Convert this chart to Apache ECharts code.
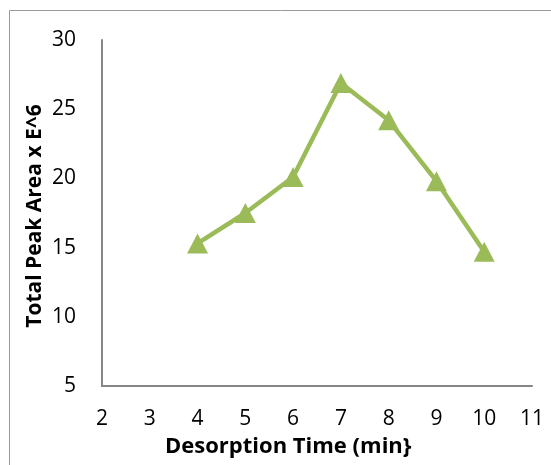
<!DOCTYPE html>
<html><head><meta charset="utf-8">
<script src="https://cdn.jsdelivr.net/npm/echarts@6/dist/echarts.min.js"></script>
<style>html,body{margin:0;padding:0;background:#fff}#c{width:551px;height:465px}</style>
</head><body><div id="c"></div>
<script>
const xValues = [4, 5, 6, 7, 8, 9, 10];
const peakArea = [15.3, 17.5, 20.1, 26.9, 24.2, 19.8, 14.7];
const xTitle = 'Desorption Time (min}';
const yTitle = 'Total Peak Area x E^6';

const chart = echarts.init(document.getElementById('c'));
const font = '"Open Sans", "Liberation Sans", sans-serif';
chart.setOption({
  animation: false,
  graphic: [{
    type: 'rect', shape: {x: 9.5, y: 10.5, width: 600, height: 500},
    style: {fill: 'none', stroke: '#9a9a9a', lineWidth: 1}, z: -1
  }, {
    type: 'text', left: 165, top: 436,
    style: {text: xTitle, font: 'bold 22px ' + font, fill: '#000'}
  }, {
    type: 'text', x: 35, y: 216, rotation: Math.PI / 2,
    style: {text: yTitle, font: 'bold 21px ' + font, fill: '#000', align: 'center', verticalAlign: 'middle'}
  }],
  grid: {left: 102, top: 40, width: 430, height: 346},
  xAxis: {
    type: 'value', min: 2, max: 11, interval: 1,
    axisLine: {lineStyle: {color: '#868686', width: 2}},
    axisTick: {show: false}, splitLine: {show: false},
    axisLabel: {fontFamily: font, fontSize: 21, color: '#000', margin: 23}
  },
  yAxis: {
    type: 'value', min: 5, max: 30, interval: 5,
    axisLine: {show: true, lineStyle: {color: '#868686', width: 2}},
    axisTick: {show: false}, splitLine: {show: false},
    axisLabel: {fontFamily: font, fontSize: 21, color: '#000', margin: 26}
  },
  series: [{
    type: 'line',
    data: xValues.map((x, i) => [x, peakArea[i]]),
    symbol: 'triangle', symbolSize: [21, 20],
    lineStyle: {color: '#9BBB59', width: 4.5},
    itemStyle: {color: '#9BBB59'}
  }]
});
</script></body></html>
